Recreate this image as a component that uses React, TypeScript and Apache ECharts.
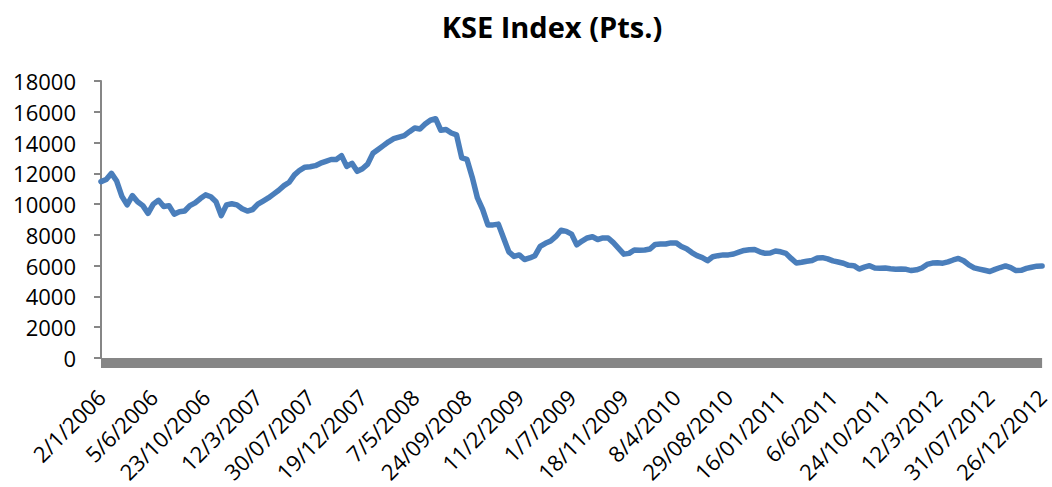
import React, { useEffect, useRef } from "react";
import * as echarts from "echarts";

const title = "KSE Index (Pts.)";

const tickLabels = [
  "2/1/2006", "5/6/2006", "23/10/2006", "12/3/2007", "30/07/2007", "19/12/2007",
  "7/5/2008", "24/09/2008", "11/2/2009", "1/7/2009", "18/11/2009", "8/4/2010",
  "29/08/2010", "16/01/2011", "6/6/2011", "24/10/2011", "12/3/2012", "31/07/2012",
  "26/12/2012",
];

// points between consecutive labelled dates
const pointsPerLabel = 10;

// index values (Pts.), ~10 trading days apart
const kseValues = [
  11460, 11600, 12000, 11500, 10500, 9950, 10550, 10150, 9900, 9400,
  10000, 10250, 9850, 9900, 9350, 9500, 9550, 9900, 10080, 10360,
  10600, 10480, 10150, 9250, 9950, 10020, 9950, 9700, 9550, 9650,
  10000, 10200, 10400, 10650, 10900, 11200, 11420, 11900, 12200, 12400,
  12430, 12500, 12660, 12780, 12900, 12900, 13150, 12450, 12650, 12130,
  12300, 12600, 13300, 13550, 13800, 14050, 14250, 14350, 14450, 14710,
  14950, 14880, 15200, 15450, 15550, 14800, 14850, 14620, 14500, 13000,
  12900, 11750, 10400, 9650, 8650, 8650, 8700, 7800, 6900, 6600,
  6700, 6400, 6500, 6650, 7250, 7450, 7600, 7900, 8300, 8230,
  8050, 7350, 7600, 7800, 7880, 7700, 7800, 7800, 7500, 7130,
  6750, 6800, 7020, 7000, 7020, 7080, 7380, 7410, 7410, 7480,
  7480, 7250, 7100, 6850, 6650, 6520, 6320, 6580, 6650, 6700,
  6700, 6760, 6880, 6990, 7040, 7050, 6900, 6800, 6820, 6950,
  6900, 6800, 6470, 6170, 6220, 6290, 6340, 6500, 6520, 6440,
  6310, 6240, 6160, 6020, 6000, 5780, 5900, 6000, 5850, 5830,
  5850, 5800, 5770, 5780, 5760, 5680, 5730, 5850, 6080, 6170,
  6190, 6160, 6250, 6370, 6470, 6320, 6050, 5860, 5780, 5700,
  5620, 5760, 5880, 5980, 5870, 5680, 5700, 5820, 5900, 5970,
  5980,
];

const yTicks = { min: 0, max: 18000, interval: 2000 };

const FONT = "'Open Sans', 'Noto Sans', sans-serif";

export default function App() {
  const ref = useRef<HTMLDivElement>(null);

  useEffect(() => {
    if (!ref.current) return;
    const chart = echarts.init(ref.current, null, { renderer: "svg" });
    const categories = kseValues.map((_, i) =>
      i % pointsPerLabel === 0 ? tickLabels[i / pointsPerLabel] : `p${i}`
    );
    chart.setOption({
      animation: false,
      backgroundColor: "#ffffff",
      title: {
        text: title,
        left: 547,
        top: 7,
        textAlign: "center",
        textStyle: {
          fontFamily: FONT,
          fontWeight: "bold",
          fontSize: 29,
          color: "#000000",
        },
      },
      grid: { left: 101, right: 2, top: 81, bottom: 129, containLabel: false },
      xAxis: {
        type: "category",
        data: categories,
        boundaryGap: false,
        offset: 5,
        axisLine: {
          show: true,
          onZero: false,
          lineStyle: { color: "#868686", width: 10, cap: "butt" },
        },
        axisTick: { show: false },
        splitLine: { show: false },
        axisLabel: {
          interval: pointsPerLabel - 1,
          rotate: 45,
          margin: 30,
          fontFamily: FONT,
          fontSize: 22,
          color: "#000000",
        },
      },
      yAxis: {
        type: "value",
        min: yTicks.min,
        max: yTicks.max,
        interval: yTicks.interval,
        axisLine: { show: true, lineStyle: { color: "#868686", width: 2 } },
        axisTick: { show: true, length: 7, lineStyle: { color: "#868686", width: 2 } },
        splitLine: { show: false },
        axisLabel: {
          margin: 25,
          fontFamily: FONT,
          fontSize: 22,
          color: "#000000",
          formatter: (v: number) => String(v),
        },
      },
      series: [
        {
          type: "line",
          data: kseValues,
          symbol: "none",
          lineStyle: { color: "#4a7ebb", width: 5.5, cap: "round", join: "round" },
          z: 3,
        },
      ],
    });
    return () => chart.dispose();
  }, []);

  return (
    <div
      ref={ref}
      style={{ position: "fixed", left: 0, top: 0, width: 1052, height: 487 }}
    />
  );
}
